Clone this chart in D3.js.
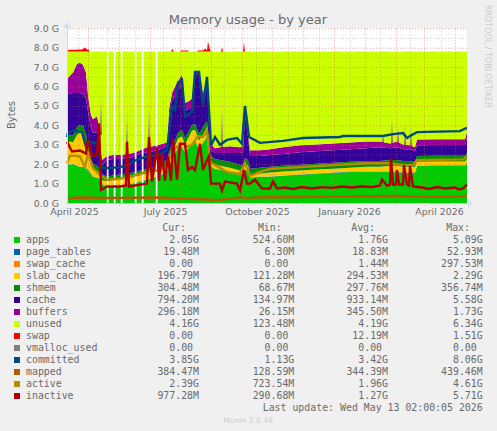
<!DOCTYPE html>
<html><head><meta charset="utf-8">
<style>
html,body{margin:0;padding:0;background:#f0f0f0;}
svg{display:block;}
text{white-space:pre;}
</style>
<script src="https://cdn.jsdelivr.net/npm/d3@7"></script>
</head><body>
<svg id="c" width="497" height="431"></svg>
<script>
// ---- data (G). x is days since the left edge of the 400-day window.
const stackDays=[0,3,6,10,13,16,19,21,24,26,30,32,35,40,46,53,60,66,73,80,86,93,100,102,105,108,111,115,118,121,125,128,132,136,140,143,148,153,163,173,176,178,181,183,193,203,216,233,249,266,283,299,313,323,330,336,343,348,350,370,396,398,400];
const apps=[2.05,1.95,2.0,1.9,1.85,1.85,1.8,1.7,1.5,1.35,1.3,1.25,.95,.85,.85,.9,.95,1.0,1.1,1.2,1.3,1.4,1.6,1.9,2.3,2.5,2.9,2.9,2.6,2.8,3.1,3.2,2.8,3.1,3.4,1.9,1.75,1.7,1.6,1.5,1.45,1.7,1.6,1.3,1.35,1.35,1.4,1.45,1.5,1.55,1.6,1.6,1.6,1.6,1.6,1.55,1.55,1.55,1.9,1.92,1.92,1.92,2.05];
const pageTables=[.02,.02,.02,.02,.02,.02,.02,.02,.02,.02,.02,.02,.02,.02,.02,.02,.02,.02,.02,.02,.02,.02,.02,.02,.02,.02,.02,.02,.02,.02,.02,.02,.02,.02,.02,.02,.02,.02,.02,.02,.02,.02,.02,.02,.02,.02,.02,.02,.02,.02,.02,.02,.02,.02,.02,.02,.02,.02,.02,.02,.02,.02,.02];
const swapCache=[0,0,0,0,0,0,0,0,0,0,0,0,0,0,0,0,0,0,0,0,0,0,0,0,0,0,0,0,0,0,0,0,0,0,0,0,0,0,0,0,0,0,0,0,0,0,0,0,0,0,0,0,0,0,0,0,0,0,0,0,0,0,0];
const slabCache=[1.0,1.2,1.1,1.6,1.75,1.75,1.2,.9,.4,.35,.3,.25,.2,.25,.3,.3,.3,.3,.3,.3,.3,.3,.3,.4,.45,.4,.4,.5,.4,.5,.6,.55,.4,.4,.5,.25,.2,.2,.2,.15,.15,.3,.3,.15,.15,.2,.2,.2,.2,.2,.2,.25,.25,.3,.3,.3,.3,.3,.2,.2,.2,.2,.2];
const shmem=[.4,.35,.35,.4,.4,.4,.5,.4,.35,.3,.3,.3,.3,.25,.25,.25,.25,.25,.25,.25,.25,.3,.3,.3,.3,.3,.3,.35,.3,.3,.3,.3,.35,.4,.3,.3,.3,.3,.3,.3,.3,.3,.3,.3,.3,.3,.3,.3,.3,.3,.3,.3,.3,.3,.3,.3,.3,.25,.3,.3,.3,.3,.3];
const cache=[2.15,2.1,2.2,1.75,1.65,1.6,1.85,1.7,1.6,1.6,1.7,1.6,.5,.85,.85,.8,.8,.8,.85,.85,.8,.75,.7,1.8,2.2,2.3,2.2,2.3,1.5,1.2,.95,2.6,3.0,1.5,2.1,.3,.3,.35,.45,.6,.7,2.2,1.2,.65,.6,.6,.6,.65,.65,.65,.65,.65,.7,.6,.65,.6,.6,.55,.55,.55,.55,.55,.8];
const buffers=[.75,.95,1.05,1.5,1.55,1.5,1.35,.85,.65,.7,.85,.55,.25,.2,.2,.2,.2,.2,.2,.25,.25,.25,.2,.4,.4,.5,.45,.55,.35,.4,.4,.1,.2,.25,.2,.3,.25,.3,.35,.3,.3,.5,.3,.3,.3,.3,.35,.35,.35,.35,.35,.35,.3,.25,.3,.25,.2,.2,.3,.3,.3,.3,.3];
const unused=[1.44,1.24,1.09,.64,.59,.69,1.09,2.24,3.29,3.49,3.34,3.84,5.59,5.39,5.34,5.34,5.29,5.24,5.09,4.94,4.89,4.79,4.69,2.99,2.14,1.79,1.54,1.19,2.64,2.59,2.44,1.04,1.04,2.14,1.29,4.74,4.99,4.94,4.89,4.94,4.89,2.79,4.09,5.09,5.09,5.04,4.94,4.84,4.79,4.74,4.69,4.64,4.64,4.74,4.64,4.79,4.84,4.94,4.54,4.52,4.52,4.52,4.14];

const physicalTotal=7.81;
const swapDays=[0,8,15,18,20,22,22.5,104,105,107,113,114,121,122,130,131,136,138,140,141,143,144,154,155,156,176,177,178,400];
const swapVals=[.07,.08,.1,.2,.1,.08,0,0,.13,0,0,.04,.04,0,0,.04,.04,.15,.05,.5,.1,0,0,.2,0,0,.45,0,0];

const committedDays=[0,1,6,15,19,23,31,35,43,53,60,66,80,93,100,105,108,111,115,118,125,128,132,136,140,144,148,153,160,170,175,178,182,193,216,236,273,276,316,326,336,340,343,350,393,399,400];
const committedVals=[3.4,3.6,3.75,3.65,2.9,3.15,3.05,1.8,1.8,1.85,1.95,2.15,2.4,2.5,2.75,5,4.8,6.2,6.35,4.45,4.7,6.75,6.75,5,6.5,2.95,3.4,3,3.25,3.35,3.05,5,3.4,3.1,3.2,3.35,3.4,3.45,3.45,3.55,3.6,3.35,3.45,3.65,3.7,3.85,3.85];
const mappedDays=[0,10,40,90,120,140,150,160,175,180,195,210,260,330,345,395,399,400];
const mappedVals=[.22,.28,.26,.28,.22,.18,.14,.2,.3,.25,.3,.3,.33,.36,.33,.33,.38,.38];
const activeDays=[0,3,13,18,21,26,33,40,53,66,80,93,100,105,110,116,120,125,131,136,140,143,150,160,173,178,183,193,203,233,266,299,323,336,346,350,396,400];
const activeVals=[2.05,2.45,2.4,1.85,2.55,1.8,1.45,1.2,1.25,1.4,1.6,1.7,1.95,2.7,2.9,3.05,2.9,3,3.45,3.4,3.75,2.1,1.9,1.6,1.5,2.05,1.4,1.6,1.75,1.85,1.95,2.05,2.05,1.95,1.95,2.2,2.25,2.39];
const inactiveDays=[0,5,13,19,21,25,30,32,34,40,48,53,59,60,62,80,82,85,90,92,95,98,101,104,106,110,113,118,121,125,128,133,136,140,142,144,153,155,158,170,173,177,180,183,188,195,203,206,210,218,226,235,245,255,265,275,285,295,305,313,315,320,323,324,326,329,330,332,336,337,340,342,343,346,355,362,370,378,388,392,396,400];
const inactiveVals=[3.15,2.65,2.7,2.55,3.25,2.4,2.5,4.1,.67,.85,.85,.85,.9,3.15,.85,1.0,3.4,1.1,2.9,1.15,2.55,1.15,2.4,1.15,3.3,1.2,3.05,3.05,1.7,1.85,1.7,3.05,1.7,2.2,2.4,1.0,1.0,.65,1.1,1.0,.65,1.7,1.0,1.0,1.2,.75,.75,1.1,.75,.8,.72,.82,.75,.82,.78,.85,.8,.86,.82,.9,1.2,.9,.95,2.3,.95,.95,1.7,.95,.95,1.95,.95,.9,1.9,.85,.8,.72,.82,.75,.8,.7,.75,.95];

const gapDays=[40,47,54,68,75,89];
const ghostDays=[34,60,82,155,316,325,331,338,344];
const ghostBase=[3.5,2.4,2.8,2.8,3.1,3.0,3.1,2.9,2.9];
const ghostTops=[5.5,4.6,5.0,5.0,3.55,4.4,3.9,4.1,4.0];

const yTicks=[0,1,2,3,4,5,6,7,8,9];
const yMinor=[.5,1.5,2.5,3.5,4.5,5.5,6.5,7.5,8.5];
const monthGridDays=[21,52,83,113,144,175,205,236,267,298,329,357,388];
const minorGridDays=[11,40,68,96,127,157,189,221,252,283,313,343,374];
const monthLabelDays=[7,98,190,282,372];
const monthLabels=["April 2025","July 2025","October 2025","January 2026","April 2026"];

const legendNames=["apps","page_tables","swap_cache","slab_cache","shmem","cache","buffers","unused","swap","vmalloc_used","committed","mapped","active","inactive"];
const legendColors=["#00CC00","#0066B3","#FF8000","#FFCC00","#008F00","#330099","#990099","#CCFF00","#FF0000","#808080","#00487D","#B35A00","#B38F00","#B30000"];
const curCol=["2.05G","19.48M","0.00 ","196.79M","304.48M","794.20M","296.18M","4.16G","0.00 ","0.00 ","3.85G","384.47M","2.39G","977.28M"];
const minCol=["524.60M","6.30M","0.00 ","121.28M","68.67M","134.97M","26.15M","123.48M","0.00 ","0.00 ","1.13G","128.59M","723.54M","290.68M"];
const avgCol=["1.76G","18.83M","1.44M","294.53M","297.76M","933.14M","345.50M","4.19G","12.19M","0.00 ","3.42G","344.39M","1.96G","1.27G"];
const maxCol=["5.09G","52.93M","297.53M","2.29G","356.74M","5.58G","1.73G","6.34G","1.51G","0.00 ","8.06G","439.46M","4.61G","5.71G"];
const headers=["Cur:","Min:","Avg:","Max:"];

// ---- chart
const svg=d3.select("#c");
const textCol="#6a6a6a";
const x=d3.scaleLinear().domain([0,400]).range([67,467]);
const y=d3.scaleLinear().domain([0,9]).range([203,28.3]);

svg.append("rect").attr("x",x(0)).attr("y",y(9)).attr("width",x(400)-x(0)).attr("height",y(0)-y(9)).attr("fill","#fff");

const keys=["apps","page_tables","swap_cache","slab_cache","shmem","cache","buffers","unused"];
const cols=[apps,pageTables,swapCache,slabCache,shmem,cache,buffers,unused];
const rows=stackDays.map((d,i)=>{const o={day:d};keys.forEach((k,j)=>o[k]=cols[j][i]);return o;});
const layers=d3.stack().keys(keys)(rows);
const color=n=>legendColors[legendNames.indexOf(n)];
const area=d3.area().x(d=>x(d.data.day)).y0(d=>y(d[0])).y1(d=>y(d[1]));
svg.append("g").selectAll("path").data(layers).join("path").attr("d",area).attr("fill",d=>color(d.key));

// swap sits on top of the physical memory total
svg.append("path").attr("fill",color("swap"))
  .attr("d",d3.area().x((d,i)=>x(swapDays[i])).y0(y(physicalTotal)).y1(d=>y(physicalTotal+d))(swapVals));

// faint spikes left by consolidation
const defs=svg.append("defs");
const g=defs.append("linearGradient").attr("id","ghost").attr("x1",0).attr("y1",1).attr("x2",0).attr("y2",0);
g.append("stop").attr("offset",0).attr("stop-color","#990099").attr("stop-opacity",.7);
g.append("stop").attr("offset",.5).attr("stop-color","#9a80a0").attr("stop-opacity",.55);
g.append("stop").attr("offset",1).attr("stop-color","#c0d070").attr("stop-opacity",.1);
svg.append("g").selectAll("rect").data(ghostDays).join("rect")
  .attr("x",d=>x(d)-1).attr("width",x(2)-x(0))
  .attr("y",(d,i)=>y(ghostTops[i])).attr("height",(d,i)=>y(ghostBase[i])-y(ghostTops[i]))
  .attr("fill","url(#ghost)");

// missing samples
svg.append("g").selectAll("rect").data(gapDays).join("rect")
  .attr("x",d=>x(d)-.2).attr("width",1.7).attr("y",y(physicalTotal)).attr("height",y(0)-y(physicalTotal)).attr("fill","#fff");

// grid
const grid=svg.append("g").attr("fill","none");
function hline(v,c){grid.append("line").attr("x1",x(0)).attr("x2",x(400)).attr("y1",y(v)+.5).attr("y2",y(v)+.5).attr("stroke",c).attr("stroke-dasharray","1 2");}
function vline(v,c,ext){grid.append("line").attr("x1",x(v)+.5).attr("x2",x(v)+.5).attr("y1",y(9)).attr("y2",y(0)+ext).attr("stroke",c).attr("stroke-dasharray","1 2");}
yMinor.forEach(v=>hline(v,"rgba(130,130,130,.4)"));
minorGridDays.forEach(v=>vline(v,"rgba(130,130,130,.4)",2));
yTicks.forEach(v=>hline(v,"rgba(225,90,90,.55)"));
monthGridDays.forEach(v=>vline(v,"rgba(225,90,90,.55)",3));

// lines
const lw=2.4;
function drawLine(days,vals,name,w){
  svg.append("path").attr("fill","none").attr("stroke",color(name)).attr("stroke-width",w).attr("stroke-linejoin","miter")
    .attr("d",d3.line().x((d,i)=>x(days[i])).y(d=>y(d))(vals));
}
drawLine(committedDays,committedVals,"committed",lw);
drawLine(mappedDays,mappedVals,"mapped",lw);
drawLine(activeDays,activeVals,"active",lw);
drawLine(inactiveDays,inactiveVals,"inactive",lw);

// axes
const yAxis=svg.append("g").attr("transform",`translate(${x(0)},0)`)
  .call(d3.axisLeft(y).tickValues(yTicks).tickSize(0).tickPadding(8).tickFormat(d=>d3.format(".1f")(d)+" G"));
yAxis.select(".domain").attr("stroke","#cfd6f0").attr("stroke-width",1);
yAxis.selectAll("text").attr("font-family","'DejaVu Sans'").attr("font-size",9.4).attr("fill",textCol);

const xAxis=svg.append("g").attr("transform",`translate(0,${y(0)})`)
  .call(d3.axisBottom(x).tickValues(monthLabelDays).tickSize(0).tickPadding(5).tickFormat((d,i)=>monthLabels[i]));
xAxis.select(".domain").attr("stroke","#c4c4d4").attr("stroke-width",1);
xAxis.selectAll("text").attr("font-family","'DejaVu Sans'").attr("font-size",9.4).attr("fill",textCol);

// axis arrows
svg.append("path").attr("fill","#d4dcf8").attr("d",d3.line()([[63.5,28],[70.5,28],[67,21.5]]));
svg.append("path").attr("fill","#d4dcf8").attr("d",d3.line()([[468,200],[468,207],[473,203.5]]));

// titles
svg.append("text").attr("x",248).attr("y",24).attr("text-anchor","middle").attr("font-family","'DejaVu Sans'").attr("font-size",13).attr("fill",textCol).text("Memory usage - by year");
svg.append("text").attr("transform","translate(14.5,115) rotate(-90)").attr("text-anchor","middle").attr("font-family","'DejaVu Sans'").attr("font-size",10).attr("fill",textCol).text("Bytes");
svg.append("text").attr("transform","translate(484.5,5) rotate(90)").attr("font-family","'DejaVu Sans'").attr("font-size",8).attr("fill","#cccccc").text("RRDTOOL / TOBI OETIKER");

// legend
const mono="'DejaVu Sans Mono'";
const legend=svg.append("g").attr("font-family",mono).attr("font-size",9.9).attr("fill",textCol);
const colEnds=[199,294.3,388,482.7];
const headerEnds=[186,281.7,375,470];
headers.forEach((h,i)=>legend.append("text").attr("x",headerEnds[i]).attr("y",231).attr("text-anchor","end").text(h));
const rowY=i=>243.2+i*12;
legendNames.forEach((n,i)=>{
  legend.append("rect").attr("x",14).attr("y",rowY(i)-6.2).attr("width",6).attr("height",6).attr("fill",legendColors[i]);
  legend.append("text").attr("x",26).attr("y",rowY(i)).text(n);
  [curCol,minCol,avgCol,maxCol].forEach((c,j)=>legend.append("text").attr("x",colEnds[j]).attr("y",rowY(i)).attr("text-anchor","end").text(c[i]));
});
legend.append("text").attr("x",482.7).attr("y",rowY(14)).attr("text-anchor","end").text("Last update: Wed May 13 02:00:05 2026");
svg.append("text").attr("x",248).attr("y",423).attr("text-anchor","middle").attr("font-family","'DejaVu Sans'").attr("font-size",7.6).attr("fill","#cccccc").text("Munin 2.0.49");
</script>
</body></html>
